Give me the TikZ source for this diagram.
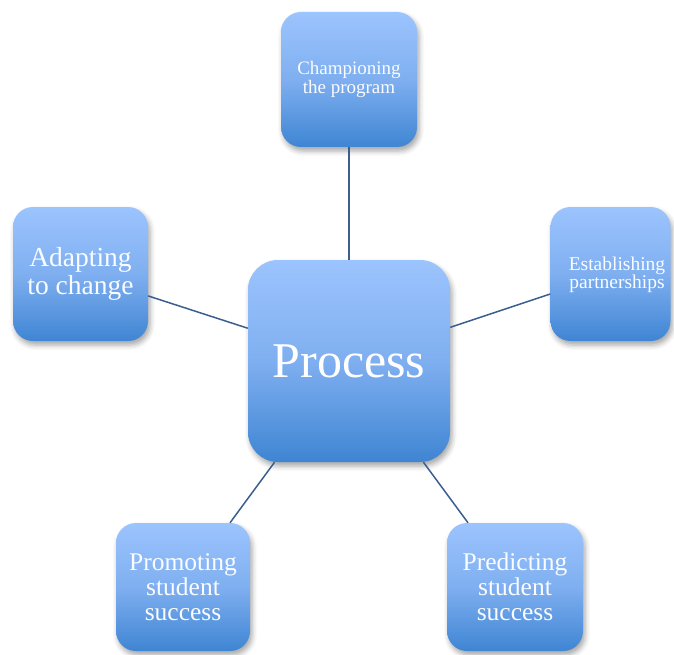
\documentclass[tikz,border=0pt]{standalone}
\usepackage{fontspec}
\setmainfont{Liberation Serif}
\usetikzlibrary{shadows.blur}
\definecolor{boxtop}{HTML}{9CC4FE}
\definecolor{boxmid}{HTML}{7FAFF0}
\definecolor{boxbot}{HTML}{3F85D3}
\definecolor{linkc}{HTML}{3B5E91}
\definecolor{txtc}{HTML}{FAFCFF}
\tikzset{
  box/.style={rectangle, rounded corners=20pt, draw=none,
    top color=boxtop, bottom color=boxbot, middle color=boxmid,
    text=txtc, align=center, inner sep=0pt,
    blur shadow={shadow xshift=2pt, shadow yshift=-4pt, shadow blur radius=5pt, shadow opacity=35}},
  txt/.style={text=txtc, align=center, inner sep=0pt},
  link/.style={draw=linkc, line width=1.5pt}
}
\begin{document}
\begin{tikzpicture}[x=1pt,y=-1pt]
\useasboundingbox (0,0) rectangle (674,655);
\node[box, rounded corners=30pt, minimum width=202pt, minimum height=202pt,
  font=\fontsize{50}{52}\selectfont, text=white] (proc) at (349,361) {Process};
\node[box, minimum width=136pt, minimum height=135pt,
  font=\fontsize{19}{19.5}\selectfont] (champ) at (349,79.5) {Championing\\the program};
\node[box, minimum width=135pt, minimum height=134pt,
  font=\fontsize{27.5}{28}\selectfont] (adapt) at (80.5,274) {Adapting\\to change};
\node[box, minimum width=120pt, minimum height=134pt] (estab) at (610.5,274) {};
\node[txt, font=\fontsize{19.5}{18}\selectfont] (estabt) at (617,275) {Establishing\\partnerships};
\node[box, minimum width=134pt, minimum height=128pt,
  font=\fontsize{25.5}{25}\selectfont] (promo) at (183,587) {Promoting\\student\\success};
\node[box, minimum width=136pt, minimum height=128pt,
  font=\fontsize{25.5}{25}\selectfont] (pred) at (515,587) {Predicting\\student\\success};
\draw[link] (proc) -- (champ);
\draw[link] (proc) -- (adapt);
\draw[link] (proc) -- (estab);
\draw[link] (proc) -- (promo);
\draw[link] (proc) -- (pred);
\end{tikzpicture}
\end{document}
